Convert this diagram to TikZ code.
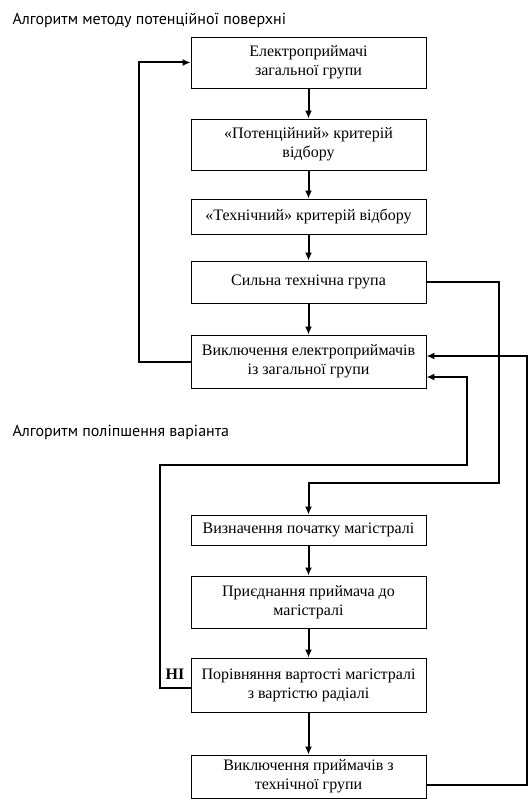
\documentclass[tikz,border=0pt]{standalone}
\usepackage{fontspec}
\setmainfont{Liberation Serif}
\newfontfamily\titlefont{PT Sans}
\usetikzlibrary{arrows.meta}

\tikzset{
  block/.style={draw, line width=0.9pt, minimum width=235pt, align=center,
    inner sep=2pt, font=\fontsize{16}{19}\selectfont},
  link/.style={line width=2pt, -{Latex[length=8pt,width=7pt]}},
  caption/.style={anchor=west, font=\titlefont\fontsize{16}{18}\selectfont}
}

\begin{document}
\begin{tikzpicture}[x=1pt, y=-1pt]
        \useasboundingbox (0,0) rectangle (529,799);

        \node[caption] (t1) at (9,20)  {Алгоритм методу потенційної поверхні};
        \node[caption] (t2) at (9,432) {Алгоритм поліпшення варіанта};

        \begin{scope}[every node/.style={block}]
          \node[minimum height=51pt] (b1) at (308.5,62.5)  {Електроприймачі\\загальної групи};
          \node[minimum height=51pt] (b2) at (308.5,144.5) {«Потенційний» критерій\\відбору};
          \node[minimum height=35pt] (b3) at (308.5,216.5) {«Технічний» критерій відбору};
          \node[minimum height=42pt] (b4) at (308.5,282)   {Сильна технічна група};
          \node[minimum height=53pt] (b5) at (308.5,361.5) {Виключення електроприймачів\\із загальної групи};
          \node[minimum height=30pt] (b6) at (308.5,530)   {Визначення початку магістралі};
          \node[minimum height=52pt] (b7) at (308.5,602)   {Приєднання приймача до\\магістралі};
          \node[minimum height=54pt] (b8) at (308.5,685)   {Порівняння вартості магістралі\\з вартістю радіалі};
          \node[minimum height=43pt] (b9) at (308.5,776.5) {Виключення приймачів з\\технічної групи};
        \end{scope}

        \node[font=\bfseries\fontsize{16}{18}\selectfont] (ni) at (175,674) {НІ};
        \coordinate (k) at (467,465);

        \begin{scope}[every edge/.style={draw, link}]
          \path (b1) edge (b2);
          \path (b2) edge (b3);
          \path (b3) edge (b4);
          \path (b4) edge (b5);
          \path (b6) edge (b7);
          \path (b7) edge (b8);
          \path (b8) edge (b9);
        \end{scope}

        \draw[link] (b5.west) -- ++(-52,0) |- (b1.west);
        \draw[link] (b4.east) -| ++(73,201) -| (b6.north);
        \draw[link] ([yshift=-8.5pt]b9.east) -- ++(101,0) |- ([yshift=5.5pt]b5.east);
        \draw[link] ([yshift=-3pt]b8.west) -- ++(-31,0) |- (k) |- ([yshift=-15.5pt]b5.east);

      \end{tikzpicture}
\end{document}
